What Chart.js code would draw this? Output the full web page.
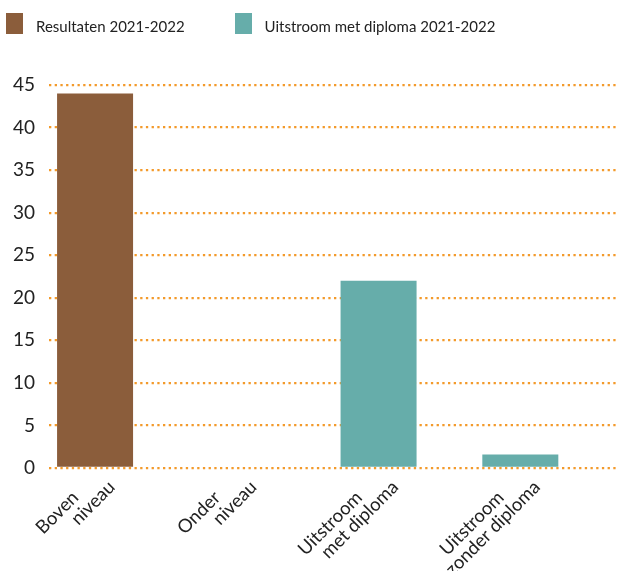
<!DOCTYPE html>
<html>
<head>
<meta charset="utf-8">
<script src="https://cdn.jsdelivr.net/npm/chart.js@4/dist/chart.umd.min.js"></script>
<style>
  html, body { margin: 0; padding: 0; background: #fff; }
  #wrap { position: relative; width: 617px; height: 571px; }
  #legend { position: absolute; left: 6px; top: 13px; display: flex; font-family: Lato, sans-serif; font-size: 15px; color: #222; }
  #legend .item { display: flex; align-items: center; margin-right: 50px; }
  #legend .box { width: 17px; height: 21px; margin-right: 13px; }
  #legend .txt { position: relative; top: 2px; }
</style>
</head>
<body>
<div id="wrap">
  <div id="legend"></div>
  <canvas id="chart" width="617" height="571"></canvas>
</div>
<script>
// categorieën en waarden
const categories = [['Boven', 'niveau'], ['Onder', 'niveau'], ['Uitstroom', 'met diploma'], ['Uitstroom', 'zonder diploma']];
const seriesNames = ['Resultaten 2021-2022', 'Uitstroom met diploma 2021-2022'];
const resultaten = [44, 0, null, null];
const uitstroom = [null, null, 22, 1.6];
const yTicks = [0, 5, 10, 15, 20, 25, 30, 35, 40, 45];

const colors = ['#8B5D3B', '#66ADAA'];
const gridOrange = '#F39A2B';

// legenda in html
const legendEl = document.getElementById('legend');
seriesNames.forEach((name, i) => {
    const item = document.createElement('div');
    item.className = 'item';
    item.innerHTML = '<span class="box" style="background:' + colors[i] + '"></span><span class="txt">' + name + '</span>';
    legendEl.appendChild(item);
});

const ctx = document.getElementById('chart').getContext('2d');
new Chart(ctx, {
    type: 'bar',
    data: {
        labels: categories,
        datasets: [
            { label: seriesNames[0], data: resultaten, backgroundColor: colors[0], stack: 'a' },
            { label: seriesNames[1], data: uitstroom, backgroundColor: colors[1], stack: 'a' },
            // lege groep zodat de staven links in de categorie staan
            { label: '', data: [], stack: 'b' }
        ]
    },
    options: {
        responsive: false,
        animation: false,
        devicePixelRatio: 1,
        categoryPercentage: 0.7,
        barPercentage: 3,
        maxBarThickness: 76,
        layout: { padding: { top: 85, right: 1, left: 0, bottom: 0 } },
        plugins: { legend: { display: false }, tooltip: { enabled: false } },
        scales: {
            x: {
                grid: { display: false, drawTicks: false },
                border: { display: false },
                ticks: {
                    minRotation: 45,
                    maxRotation: 45,
                    color: '#222',
                    font: { family: 'Lato', size: 18.5, lineHeight: '18.4px' },
                    padding: -3.5,
                    labelOffset: -21,
                    // eerste regel iets terugzetten, zoals in het origineel
                    callback: (value, index) => [categories[index][0] + '       ', categories[index][1]]
                },
                afterFit: (scale) => { scale.height = 103; }
            },
            y: {
                min: 0,
                max: 45,
                border: { display: false, dash: [2.3, 3.4] },
                grid: { color: gridOrange, lineWidth: 2.3, drawTicks: false },
                afterBuildTicks: (scale) => { scale.ticks = yTicks.map(v => ({ value: v })); },
                ticks: { color: '#222', font: { family: 'Lato', size: 19 }, padding: 14 },
                afterFit: (scale) => { scale.width = 49; }
            }
        }
    }
});
</script>
</body>
</html>
